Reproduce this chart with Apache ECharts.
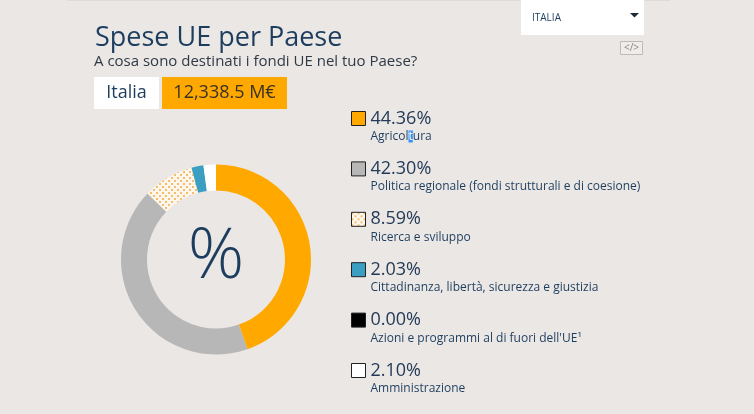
<!DOCTYPE html>
<html>
<head>
<meta charset="utf-8">
<script src="https://cdn.jsdelivr.net/npm/echarts@6/dist/echarts.min.js"></script>
<style>
html,body{margin:0;padding:0;background:#ebe7e4;}
#chart{width:754px;height:414px;}
</style>
</head>
<body>
<div id="chart"></div>
<script>
const categories = [
  'Agricoltura',
  'Politica regionale (fondi strutturali e di coesione)',
  'Ricerca e sviluppo',
  'Cittadinanza, libertà, sicurezza e giustizia',
  "Azioni e programmi al di fuori dell'UE¹",
  'Amministrazione'
];
const shares = [44.36, 42.30, 8.59, 2.03, 0.00, 2.10];
const titleText = 'Spese UE per Paese';
const subtitleText = 'A cosa sono destinati i fondi UE nel tuo Paese?';
const countryName = 'Italia';
const totalText = '12,338.5 M€';
const dropdownText = 'ITALIA';

const FONT = '"Open Sans", "Noto Sans", sans-serif';
const NAVY = '#1d3d5e';

// dotted pattern for "Ricerca e sviluppo"
const pat = document.createElement('canvas');
pat.width = 6; pat.height = 6;
const pc = pat.getContext('2d');
pc.fillStyle = '#fcf6ec'; pc.fillRect(0, 0, 6, 6);
pc.fillStyle = '#f6bd6a';
pc.fillRect(0, 0, 2, 2);
pc.fillRect(3, 3, 2, 2);

const sliceColors = ['#fea800', '#b7b7b7', { image: pat, repeat: 'repeat' }, '#3a9fc2', '#000000', '#ffffff'];

const chart = echarts.init(document.getElementById('chart'));

const option = {
  backgroundColor: '#ebe7e4',
  animation: false,
  legend: {
    orient: 'vertical',
    left: 351,
    top: 94.5,
    padding: 0,
    itemWidth: 14,
    itemHeight: 14,
    itemGap: 2.4,
    icon: 'rect',
    selectedMode: false,
    itemStyle: { borderColor: '#222', borderWidth: 1 },
    data: categories,
    formatter: function (name) {
      const i = categories.indexOf(name);
      let lab = '{l|' + name + '}';
      if (i === 0) lab = '{l|Agricol}{sel|t}{l|ura}';
      return '{b| }\n{p|' + shares[i].toFixed(2) + '%}\n' + lab;
    },
    textStyle: {
      fontFamily: FONT,
      rich: {
        b: { fontSize: 12, lineHeight: 14 },
        p: { fontSize: 18, lineHeight: 22, color: '#243b58', fontFamily: FONT },
        l: { fontSize: 12, lineHeight: 14, color: NAVY, fontFamily: FONT },
        sel: { fontSize: 12, lineHeight: 14, color: '#ffffff', backgroundColor: '#3390ff', fontFamily: FONT }
      }
    }
  },
  series: [{
    type: 'pie',
    center: [216, 259.5],
    radius: [69, 95],
    startAngle: 90,
    clockwise: true,
    label: { show: false },
    labelLine: { show: false },
    emphasis: { disabled: true },
    silent: true,
    data: categories.map((c, i) => ({
      name: c,
      value: shares[i],
      itemStyle: { color: sliceColors[i] }
    }))
  }],
  graphic: [
    { type: 'rect', shape: { x: 67, y: 0, width: 603, height: 1 }, style: { fill: '#dfdbd8' } },
    { type: 'text', x: 95, y: 38, style: { text: titleText, font: '27px ' + FONT, fill: NAVY, verticalAlign: 'middle' } },
    { type: 'text', x: 94, y: 62, style: { text: subtitleText, font: '15px ' + FONT, fill: '#2f3a46', verticalAlign: 'middle' } },
    { type: 'rect', shape: { x: 94, y: 77, width: 65, height: 32 }, style: { fill: '#ffffff' } },
    { type: 'text', x: 126.5, y: 93, style: { text: countryName, font: '18px ' + FONT, fill: NAVY, align: 'center', verticalAlign: 'middle' } },
    { type: 'rect', shape: { x: 162, y: 77, width: 125, height: 32 }, style: { fill: '#fea800' } },
    { type: 'text', x: 224.5, y: 93, style: { text: totalText, font: '18px ' + FONT, fill: '#3a3225', align: 'center', verticalAlign: 'middle' } },
    { type: 'text', x: 216, y: 258, style: { text: '%', font: '300 70px ' + FONT, fill: NAVY, align: 'center', verticalAlign: 'middle' } },
    { type: 'rect', shape: { x: 521, y: 0, width: 123, height: 35 }, style: { fill: '#ffffff' } },
    { type: 'text', x: 532, y: 18, style: { text: dropdownText, font: '10px ' + FONT, fill: NAVY, verticalAlign: 'middle' } },
    { type: 'polygon', shape: { points: [[630, 13], [639, 13], [634.5, 17.5]] }, style: { fill: '#1d2a38' } },
    { type: 'rect', shape: { x: 620.5, y: 41.5, width: 22, height: 13 }, style: { fill: '#efecea', stroke: '#bdbab7', lineWidth: 1 } },
    { type: 'text', x: 631.5, y: 48, style: { text: '</>', font: '10px ' + FONT, fill: '#8a8784', align: 'center', verticalAlign: 'middle' } }
  ]
};
chart.setOption(option);
</script>
</body>
</html>
